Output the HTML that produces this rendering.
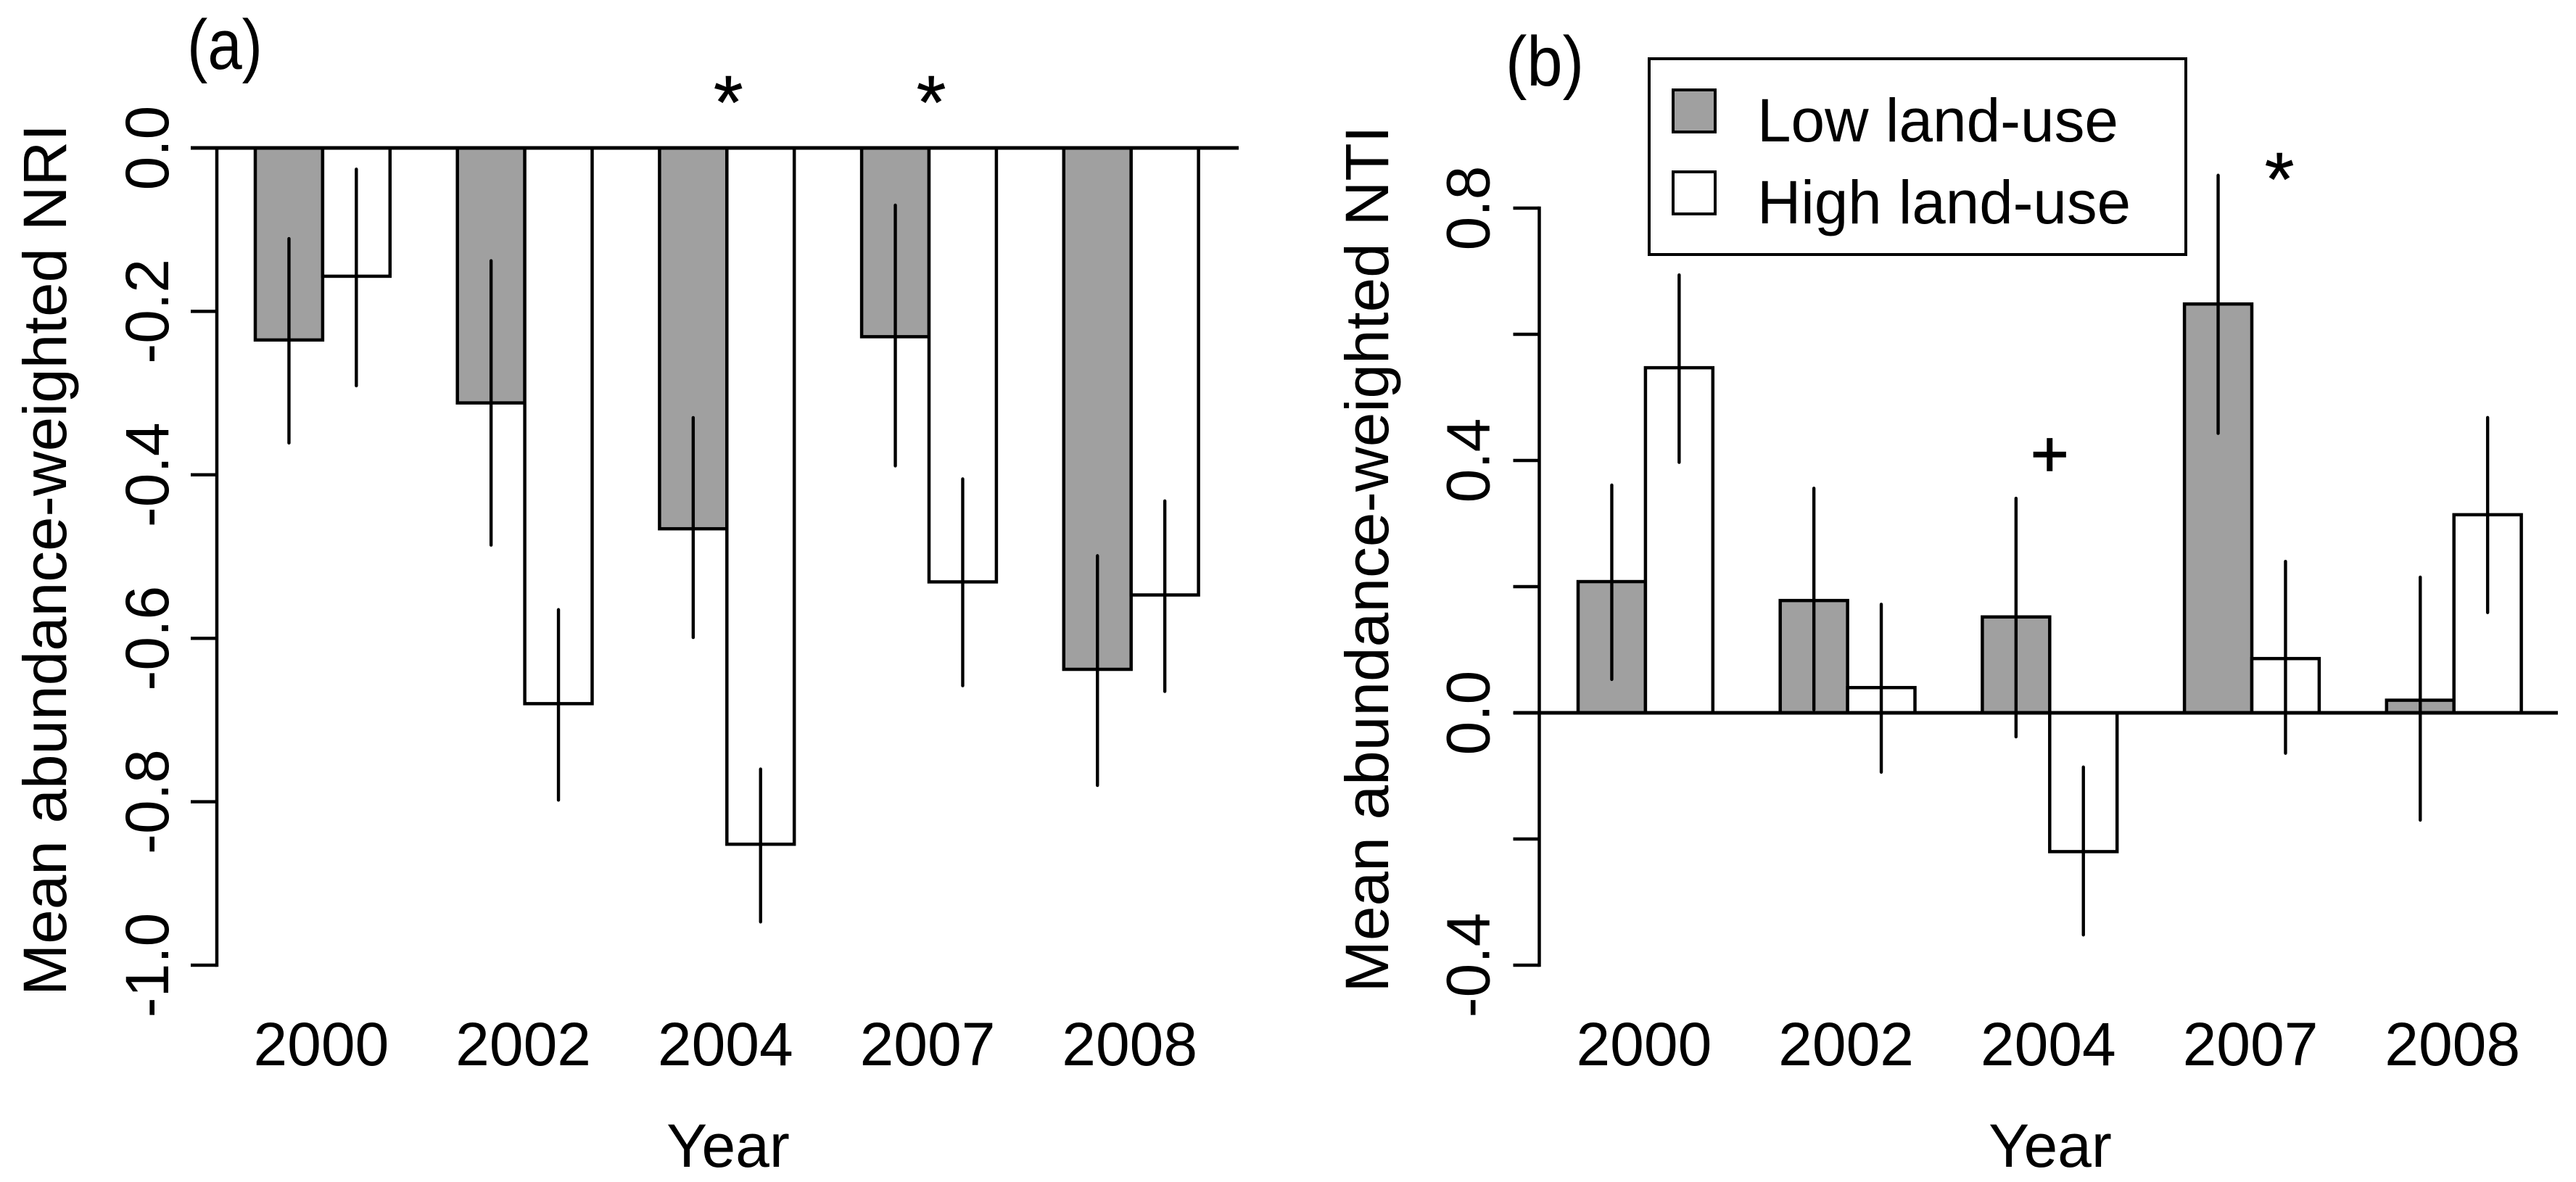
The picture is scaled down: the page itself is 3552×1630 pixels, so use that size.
<!DOCTYPE html>
<html lang="en">
<head>
<meta charset="utf-8">
<title>Abundance-weighted NRI and NTI by year</title>
<style>
html,body{margin:0;padding:0;background:#fff;}
svg{display:block;}
text{font-family:"Liberation Sans",sans-serif;font-size:84px;fill:#000;}
</style>
</head>
<body>
<svg id="chart" xmlns="http://www.w3.org/2000/svg" width="3552" height="1630" viewBox="0 0 3552 1630">
  <rect x="0" y="0" width="3552" height="1630" fill="#fff"/>
  <text x="258" y="95" textLength="104" lengthAdjust="spacingAndGlyphs" style="font-size:97px">(a)</text>
  <text x="2076" y="118" textLength="108" lengthAdjust="spacingAndGlyphs" style="font-size:97px">(b)</text>
  <text transform="rotate(-90 91 772)" x="91" y="772" text-anchor="middle" textLength="1202" lengthAdjust="spacingAndGlyphs">Mean abundance-weighted NRI</text>
  <text transform="rotate(-90 1914 771)" x="1914" y="771" text-anchor="middle" textLength="1195" lengthAdjust="spacingAndGlyphs">Mean abundance-weighted NTI</text>
  <text x="1004" y="1609" text-anchor="middle">Year</text>
  <text x="2827" y="1609" text-anchor="middle">Year</text>
  <g id="panel-a"></g>
  <g id="panel-b"></g>
  <g>
    <rect x="2274" y="81" width="740" height="270" fill="#fff" stroke="#000" stroke-width="4"/>
    <rect x="2307" y="124" width="58" height="58" fill="#a0a0a0" stroke="#000" stroke-width="4"/>
    <text x="2423" y="195" textLength="498" lengthAdjust="spacingAndGlyphs">Low land-use</text>
    <rect x="2307" y="237" width="58" height="58" fill="#fff" stroke="#000" stroke-width="4"/>
    <text x="2423" y="308" textLength="515" lengthAdjust="spacingAndGlyphs">High land-use</text>
  </g>
</svg>
<script>
const years = ['2000', '2002', '2004', '2007', '2008'];

const nriLow = [-0.235, -0.312, -0.466, -0.231, -0.638];
const nriHigh = [-0.157, -0.680, -0.852, -0.531, -0.547];
const nriLowErrTop = [-0.111, -0.138, -0.330, -0.070, -0.499];
const nriLowErrBottom = [-0.361, -0.486, -0.599, -0.389, -0.780];
const nriHighErrTop = [-0.026, -0.565, -0.760, -0.405, -0.432];
const nriHighErrBottom = [-0.291, -0.798, -0.947, -0.658, -0.665];
const nriTicks = [0.0, -0.2, -0.4, -0.6, -0.8, -1.0];
const nriTickLabels = ['0.0', '-0.2', '-0.4', '-0.6', '-0.8', '-1.0'];
const nriStars = ['', '', '*', '*', ''];

const ntiLow = [0.208, 0.178, 0.152, 0.648, 0.020];
const ntiHigh = [0.547, 0.040, -0.220, 0.086, 0.314];
const ntiLowErrTop = [0.361, 0.356, 0.340, 0.852, 0.215];
const ntiLowErrBottom = [0.053, 0.005, -0.038, 0.443, -0.170];
const ntiHighErrTop = [0.694, 0.172, -0.086, 0.240, 0.468];
const ntiHighErrBottom = [0.397, -0.094, -0.352, -0.064, 0.159];
const ntiTicks = [0.8, 0.6, 0.4, 0.2, 0.0, -0.2, -0.4];
const ntiTickLabels = ['0.8', '', '0.4', '', '0.0', '', '-0.4'];
const ntiStars = ['', '', '+', '*', ''];

const SVGNS = 'http://www.w3.org/2000/svg';

function make(tag, parent, attrs) {
  const node = document.createElementNS(SVGNS, tag);
  for (const k in attrs) node.setAttribute(k, attrs[k]);
  parent.appendChild(node);
  return node;
}

function drawPanel(cfg) {
  const root = document.getElementById(cfg.id);
  const x = cfg.x;
  const y = cfg.y;

  years.forEach(function (year, i) {
    const u = 3 * i;
    const lowBar = make('rect', root, {
      x: x(u), width: x(u + 1) - x(u),
      y: Math.min(y(0), y(cfg.low[i])), height: Math.abs(y(cfg.low[i]) - y(0)),
      fill: '#a0a0a0', stroke: '#000', 'stroke-width': 4.5
    });
    
    
    const highBar = make('rect', root, {
      x: x(u + 1), width: x(u + 2) - x(u + 1),
      y: Math.min(y(0), y(cfg.high[i])), height: Math.abs(y(cfg.high[i]) - y(0)),
      fill: '#fff', stroke: '#000', 'stroke-width': 4.5
    });
    
    
  });

  const zero = make('line', root, {
    x1: cfg.zeroStart, x2: cfg.zeroEnd, y1: y(0), y2: y(0), stroke: '#000', 'stroke-width': 5
  });
  
  

  const axisLine = make('line', root, {
    x1: cfg.axisX, x2: cfg.axisX,
    y1: y(cfg.ticks[0]), y2: y(cfg.ticks[cfg.ticks.length - 1]),
    stroke: '#000', 'stroke-width': 4.5, 'stroke-linecap': 'square'
  });
  
  

  cfg.ticks.forEach(function (t, i) {
    const tick = make('line', root, {
      x1: cfg.axisX - 36, x2: cfg.axisX, y1: y(t), y2: y(t), stroke: '#000', 'stroke-width': 4.5
    });
    
    
    if (cfg.tickLabels[i]) {
      const lx = cfg.labelX;
      const ly = y(t);
      const label = make('text', root, {
        x: lx, y: ly, 'text-anchor': 'middle', transform: 'rotate(-90 ' + lx + ' ' + ly + ')'
      });
      label.textContent = cfg.tickLabels[i];
      
      
    }
  });

  years.forEach(function (year, i) {
    const u = 3 * i;
    const lowErr = make('line', root, {
      x1: x(u + 0.5), x2: x(u + 0.5), y1: y(cfg.lowTop[i]), y2: y(cfg.lowBottom[i]),
      stroke: '#000', 'stroke-width': 4.4, 'stroke-linecap': 'round'
    });
    
    
    const highErr = make('line', root, {
      x1: x(u + 1.5), x2: x(u + 1.5), y1: y(cfg.highTop[i]), y2: y(cfg.highBottom[i]),
      stroke: '#000', 'stroke-width': 4.4, 'stroke-linecap': 'round'
    });
    
    

    const yearLabel = make('text', root, {
      x: x(u + 1) - 2, y: 1469, 'text-anchor': 'middle'
    });
    yearLabel.textContent = year;
    
    

    if (cfg.stars[i]) {
      const isPlus = cfg.stars[i] === '+';
      const mark = make('text', root, {
        x: x(u + 1) + cfg.markDx[i], y: cfg.markY[i], 'text-anchor': 'middle',
        style: isPlus ? 'font-size:90px;stroke:#000;stroke-width:1.5' : 'font-size:105px;stroke:#000;stroke-width:0.6'
      });
      mark.textContent = cfg.stars[i];
      
      
    }
  });
}

drawPanel({
  id: 'panel-a',
  x: function (u) { return 352 + 92.9 * u; },
  y: function (v) { return 204 - 1127 * v; },
  low: nriLow, high: nriHigh,
  lowTop: nriLowErrTop, lowBottom: nriLowErrBottom,
  highTop: nriHighErrTop, highBottom: nriHighErrBottom,
  ticks: nriTicks, tickLabels: nriTickLabels, stars: nriStars,
  axisX: 299, labelX: 232, zeroStart: 263, zeroEnd: 1708,
  markDx: [0, 0, 2, 3, 0], markY: [0, 0, 177, 177, 0]
});

drawPanel({
  id: 'panel-b',
  x: function (u) { return 2176 + 92.9 * u; },
  y: function (v) { return 983 - 870 * v; },
  low: ntiLow, high: ntiHigh,
  lowTop: ntiLowErrTop, lowBottom: ntiLowErrBottom,
  highTop: ntiHighErrTop, highBottom: ntiHighErrBottom,
  ticks: ntiTicks, tickLabels: ntiTickLabels, stars: ntiStars,
  axisX: 2122.5, labelX: 2053.5, zeroStart: 2087, zeroEnd: 3527,
  markDx: [0, 0, 0, 38, 0], markY: [0, 0, 657, 283, 0]
});
</script>
</body>
</html>
